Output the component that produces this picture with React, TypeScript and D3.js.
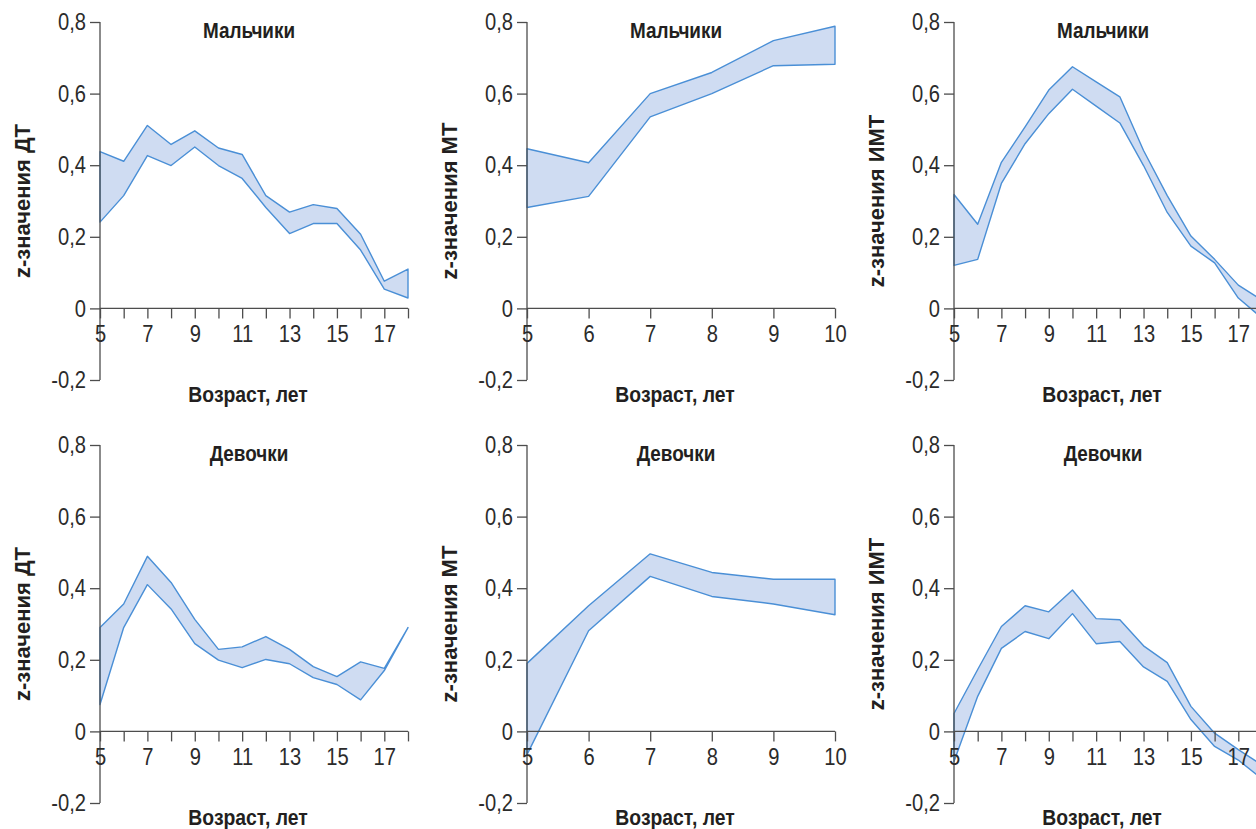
import { useEffect, useRef } from "react";
import * as d3 from "d3";

const agesFull = [5, 6, 7, 8, 9, 10, 11, 12, 13, 14, 15, 16, 17, 18];
const agesShort = [5, 6, 7, 8, 9, 10];
const yTicks = [-0.2, 0, 0.2, 0.4, 0.6, 0.8];

// boys
const boysDtUpper = [0.438, 0.411, 0.511, 0.458, 0.496, 0.448, 0.43, 0.315, 0.269, 0.29, 0.279, 0.207, 0.076, 0.11];
const boysDtLower = [0.241, 0.315, 0.427, 0.399, 0.451, 0.399, 0.363, 0.282, 0.209, 0.237, 0.237, 0.163, 0.054, 0.029];
const boysMtUpper = [0.446, 0.407, 0.6, 0.659, 0.748, 0.788];
const boysMtLower = [0.282, 0.313, 0.535, 0.6, 0.678, 0.682];
const boysBmiUpper = [0.318, 0.235, 0.408, 0.507, 0.61, 0.675, 0.633, 0.591, 0.441, 0.315, 0.202, 0.137, 0.065, 0.023];
const boysBmiLower = [0.12, 0.137, 0.349, 0.46, 0.544, 0.612, 0.565, 0.518, 0.399, 0.268, 0.174, 0.127, 0.029, -0.027];

// girls
const girlsDtUpper = [0.29, 0.356, 0.489, 0.416, 0.313, 0.229, 0.236, 0.265, 0.229, 0.181, 0.153, 0.194, 0.176, 0.29];
const girlsDtLower = [0.075, 0.29, 0.41, 0.342, 0.245, 0.199, 0.178, 0.201, 0.189, 0.15, 0.131, 0.088, 0.17, 0.29];
const girlsMtUpper = [0.19, 0.351, 0.496, 0.444, 0.425, 0.425];
const girlsMtLower = [-0.065, 0.281, 0.433, 0.377, 0.356, 0.326];
const girlsBmiUpper = [0.05, 0.173, 0.293, 0.351, 0.334, 0.395, 0.315, 0.312, 0.239, 0.192, 0.07, -0.005, -0.051, -0.094];
const girlsBmiLower = [-0.084, 0.098, 0.232, 0.279, 0.259, 0.329, 0.245, 0.251, 0.18, 0.14, 0.033, -0.042, -0.08, -0.133];

const titles = ["Мальчики", "Девочки"];
const yLabels = ["z-значения ДТ", "z-значения МТ", "z-значения ИМТ"];
const xLabel = "Возраст, лет";

const panels = [
  { row: 0, col: 0, ages: agesFull, upper: boysDtUpper, lower: boysDtLower },
  { row: 0, col: 1, ages: agesShort, upper: boysMtUpper, lower: boysMtLower },
  { row: 0, col: 2, ages: agesFull, upper: boysBmiUpper, lower: boysBmiLower },
  { row: 1, col: 0, ages: agesFull, upper: girlsDtUpper, lower: girlsDtLower },
  { row: 1, col: 1, ages: agesShort, upper: girlsMtUpper, lower: girlsMtLower },
  { row: 1, col: 2, ages: agesFull, upper: girlsBmiUpper, lower: girlsBmiLower },
];

// narrow look: Liberation Sans squeezed horizontally
const FONT = "'Liberation Sans', Arial, sans-serif";
const SQ = 0.84;
const colX = [100, 527, 954];
const rowTop = [22, 445];
const plotW = 308;
const plotH = 358;
const axisColor = "#4d4d4d";
const textColor = "#2b2b2b";

type PanelProps = (typeof panels)[number];

function Panel({ row, col, ages, upper, lower }: PanelProps) {
  const gRef = useRef<SVGGElement | null>(null);

  useEffect(() => {
    if (!gRef.current) return;
    const g = d3.select(gRef.current);
    g.selectAll("*").remove();

    const x = d3.scaleLinear().domain([ages[0], ages[ages.length - 1]]).range([0, plotW]);
    const y = d3.scaleLinear().domain([-0.2, 0.8]).range([plotH, 0]);
    const rows = ages.map((a, i) => ({ a, hi: upper[i], lo: lower[i] }));

    const area = d3
      .area<(typeof rows)[number]>()
      .x((d) => x(d.a))
      .y0((d) => y(d.lo))
      .y1((d) => y(d.hi));

    g.append("path")
      .datum(rows)
      .attr("d", area)
      .attr("fill", "#cfdcf2")
      .attr("stroke", "#4a8fd6")
      .attr("stroke-width", 1.4)
      .attr("stroke-linejoin", "round");

    const fmt = (v: number) => (v === 0 ? "0" : String(v).replace(".", ","));

    const yAxis = g
      .append("g")
      .call(d3.axisLeft(y).tickValues(yTicks).tickSize(10).tickPadding(4).tickFormat((v) => fmt(+v)));
    yAxis.select(".domain").attr("stroke", axisColor).attr("stroke-width", 1.3).attr("d", `M0,${y(0.8)}V${y(-0.2)}`);
    yAxis.selectAll(".tick line").attr("stroke", axisColor).attr("stroke-width", 1.3);
    yAxis
      .selectAll("text")
      .attr("font-family", FONT)
      .attr("font-size", 24)
      .attr("fill", textColor)
      .attr("x", -14 / SQ)
      .attr("transform", `scale(${SQ},1)`);

    const oddOnly = ages.length > 6;
    const xAxis = g
      .append("g")
      .attr("transform", `translate(0,${y(0)})`)
      .call(
        d3
          .axisBottom(x)
          .tickValues(ages)
          .tickSize(10)
          .tickPadding(7)
          .tickFormat((v) => (oddOnly && +v % 2 === 0 ? "" : String(v))),
      );
    xAxis.select(".domain").attr("stroke", axisColor).attr("stroke-width", 1.3).attr("d", `M0,0H${plotW}`);
    xAxis.selectAll(".tick line").attr("stroke", axisColor).attr("stroke-width", 1.3);
    xAxis
      .selectAll("text")
      .attr("font-family", FONT)
      .attr("font-size", 24)
      .attr("fill", textColor)
      .attr("transform", `scale(${SQ},1)`);

    const label = (tx: number, ty: number, rot: number, txt: string, sq: number) =>
      g
        .append("text")
        .attr("transform", `translate(${tx},${ty}) rotate(${rot}) scale(${sq},1)`)
        .attr("text-anchor", "middle")
        .attr("font-family", FONT)
        .attr("font-weight", "bold")
        .attr("font-size", 22)
        .attr("fill", "#231f20")
        .text(txt);

    label(plotW / 2 - 5, 16, 0, titles[row], 0.86);
    label(plotW / 2 - 6, plotH + 22, 0, xLabel, 0.88);
    label(-70, plotH / 2, -90, yLabels[col], 1);
  }, [row, col, ages, upper, lower]);

  return <g ref={gRef} transform={`translate(${colX[col]},${rowTop[row]})`} />;
}

export default function App() {
  return (
    <svg
      width={1256}
      height={829}
      style={{ position: "absolute", left: 0, top: 0, background: "#fff", overflow: "hidden" }}
    >
      <rect width={1256} height={829} fill="#fff" />
      {panels.map((p, i) => (
        <Panel key={i} {...p} />
      ))}
    </svg>
  );
}
